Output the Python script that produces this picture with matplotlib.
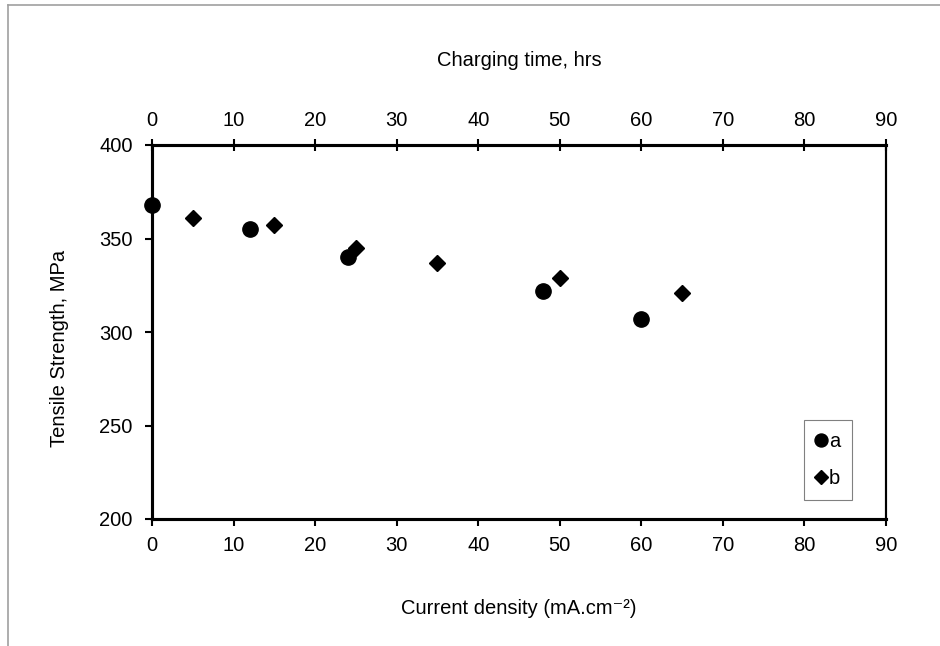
import matplotlib.pyplot as plt
from matplotlib.lines import Line2D

# series a: current density vs tensile strength
a_x = [0, 12, 24, 48, 60]
a_y = [368, 355, 340, 322, 307]
# series b: charging time vs tensile strength
b_x = [5, 15, 25, 35, 50, 65]
b_y = [361, 357, 345, 337, 329, 321]

x_ticks = [0, 10, 20, 30, 40, 50, 60, 70, 80, 90]
y_ticks = [200, 250, 300, 350, 400]

plt.rcParams['font.family'] = ['Liberation Sans', 'DejaVu Sans']
plt.rcParams['font.size'] = 14.5

fig = plt.figure(figsize=(9.4, 6.46), dpi=100)
ax = fig.add_axes([152 / 940, 1 - 519 / 646, (886 - 152) / 940, (519 - 145) / 646])

ax.plot(a_x, a_y, 'o', color='black', markersize=11, clip_on=False, label='a')
ax2 = ax.twiny()
ax2.plot(b_x, b_y, 'D', color='black', markersize=8, clip_on=False, label='b')

for axis in (ax, ax2):
    axis.set_xlim(0, 90)
    axis.set_xticks(x_ticks)
ax.set_ylim(200, 400)
ax.set_yticks(y_ticks)

for name in ('left', 'top', 'bottom'):
    ax.spines[name].set_linewidth(2.2)
    ax2.spines[name].set_linewidth(2.2)
ax.spines['right'].set_linewidth(1.5)
ax2.spines['right'].set_linewidth(1.5)

ax.tick_params(axis='y', direction='out', length=5, width=1.5, pad=9)
ax.tick_params(axis='x', direction='out', length=5, width=1.5, pad=7)
ax2.tick_params(axis='x', direction='inout', length=9, width=1.5, pad=6)

ax.set_xlabel('Current density (mA.cm\u207b\u00b2)', va='center')
ax.xaxis.set_label_coords(0.5, -0.238)
ax2.set_xlabel('Charging time, hrs', va='center')
ax2.xaxis.set_label_coords(0.5, 1.227)
ax.set_ylabel('Tensile Strength, MPa', va='center')
ax.yaxis.set_label_coords(-0.126, 0.457)

h1, l1 = ax.get_legend_handles_labels()
h2, l2 = ax2.get_legend_handles_labels()
leg = ax2.legend(h1 + h2, l1 + l2, loc='lower left', bbox_to_anchor=(0.888, 0.05),
                 fancybox=False, edgecolor='#808080', framealpha=1,
                 handlelength=0.5, handletextpad=0.15, labelspacing=0.9,
                 borderpad=0.6, borderaxespad=0, markerscale=0.85)
leg.get_frame().set_linewidth(0.8)

# outer chart frame (left and top edges)
fig.add_artist(Line2D([8 / 940, 8 / 940], [0, 1 - 5 / 646], color='#a0a0a0', lw=1.2))
fig.add_artist(Line2D([8 / 940, 1], [1 - 5 / 646, 1 - 5 / 646], color='#a0a0a0', lw=1.2))

fig.savefig('out.png', dpi=100)
